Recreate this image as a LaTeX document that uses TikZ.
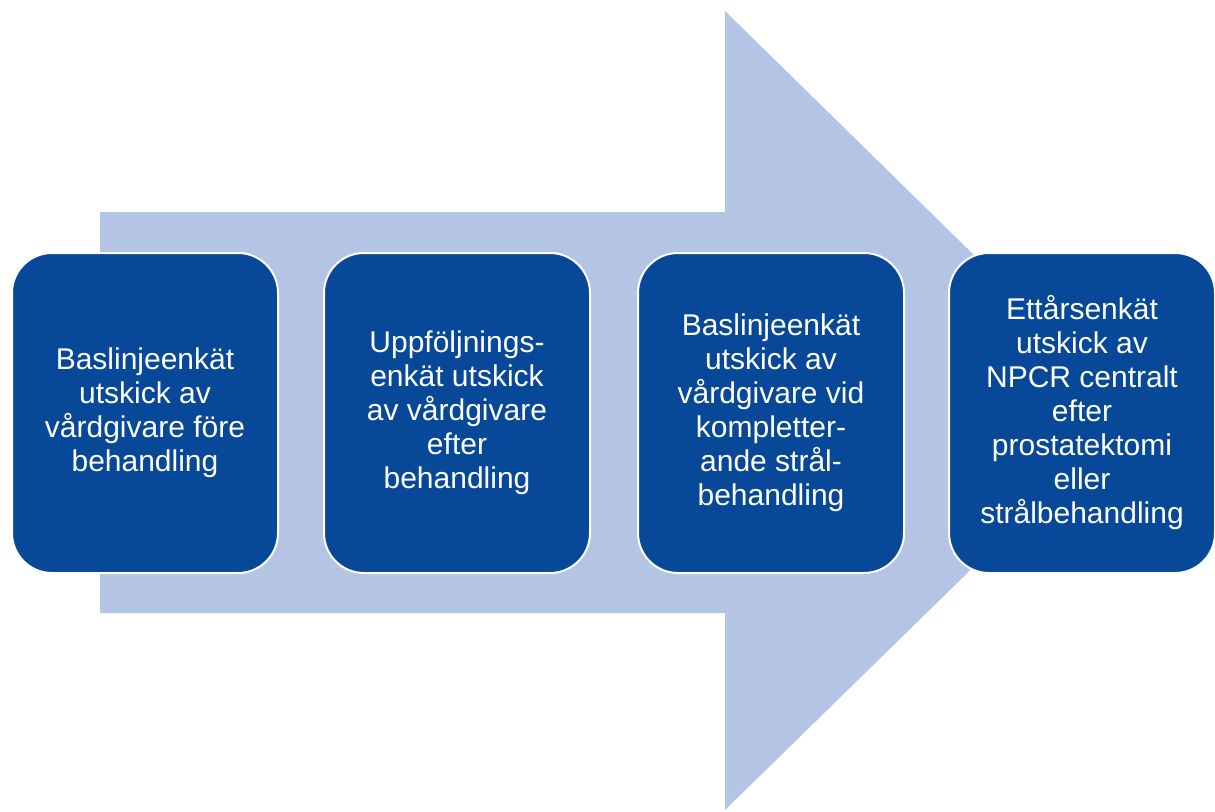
\documentclass[tikz,border=0pt]{standalone}
\usepackage{fontspec}
\setmainfont{Liberation Sans}
\definecolor{arrowblue}{RGB}{180,196,228}
\definecolor{boxblue}{RGB}{7,72,152}

\begin{document}
\begin{tikzpicture}[x=1pt,y=-1pt,
  box/.style={draw=white, line width=2pt, fill=boxblue, rounded corners=40pt,
    minimum width=266pt, minimum height=320pt, inner sep=0pt,
    text=white, align=center, font=\fontsize{30}{34}\selectfont}]
\useasboundingbox (0,0) rectangle (1215,811);
\fill [arrowblue] (100,212) -- (725,212) -- (725,11) -- (1133,411) -- (725,810) -- (725,613) -- (100,613) -- cycle;
\node [box] (b1) at (145,413) {Baslinjeenkät\\utskick av\\vårdgivare före\\behandling};
\node [box] (b2) at (457,413) {Uppföljnings-\\enkät utskick\\av vårdgivare\\efter\\behandling};
\node [box] (b3) at (771,413) {Baslinjeenkät\\utskick av\\vårdgivare vid\\kompletter-\\ande strål-\\behandling};
\node [box] (b4) at (1082,413) {Ettårsenkät\\utskick av\\NPCR centralt\\efter\\prostatektomi\\eller\\strålbehandling};
\end{tikzpicture}
\end{document}
